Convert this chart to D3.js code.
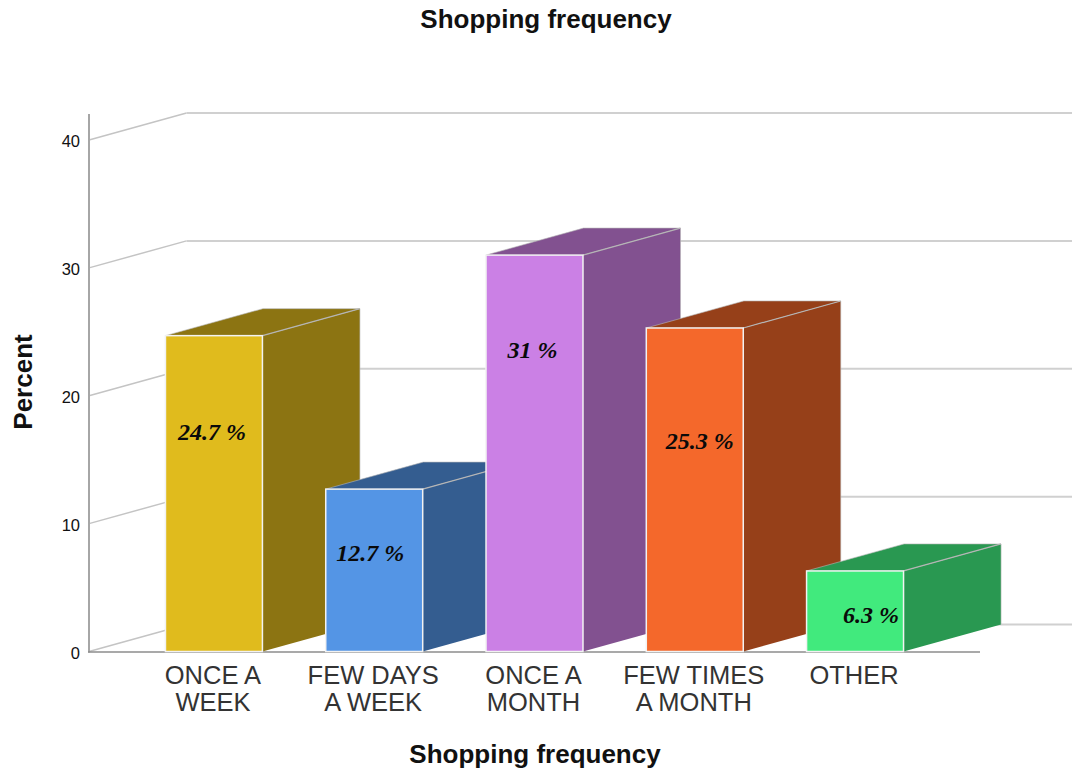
<!DOCTYPE html>
<html><head><meta charset="utf-8">
<script src="https://cdn.jsdelivr.net/npm/d3@7/dist/d3.min.js"></script>
<style>html,body{margin:0;padding:0;background:#fff}svg{display:block}</style>
</head><body><svg id="c" width="1072" height="770"></svg>
<script>
const categories = [["ONCE A","WEEK"],["FEW DAYS","A WEEK"],["ONCE A","MONTH"],["FEW TIMES","A MONTH"],["OTHER"]];
const categoryIds = ["once-week","few-days","once-month","few-times","other"];
const percents = [24.7,12.7,31,25.3,6.3];
const percentLabels = ["24.7 %","12.7 %","31 %","25.3 %","6.3 %"];
const frontColors = ["#e0bb1d","#5495e5","#cb80e5","#f4682b","#41ea7d"];
const sideColors = ["#8c7412","#345d90","#825190","#964019","#299851"];
const yTicks = [0,10,20,30,40];
const titleText = "Shopping frequency";
const yTitle = "Percent";
const labelValueAt = [17.2,7.7,23.6,16.5,2.9];
const labelShift = [-2,-4,-2,5,16];

const svg = d3.select("#c");
const y = d3.scaleLinear().domain([0,40]).range([651.5,140]);
const x = d3.scaleBand().domain(categoryIds).range([89,980]).paddingInner(0.395).paddingOuter(0.477);
const front = d3.scaleOrdinal().domain(categoryIds).range(frontColors);
const side = d3.scaleOrdinal().domain(categoryIds).range(sideColors);
const dx = 97.5, dy = -27;
const sans = "'Liberation Sans',Arial,sans-serif";

// walls
const grid = svg.append("g");
yTicks.forEach(t=>{
  grid.append("line").attr("x1",89).attr("y1",y(t)).attr("x2",89+dx).attr("y2",y(t)+dy)
    .attr("stroke","#c4c4c4").attr("stroke-width",1.5);
  grid.append("line").attr("x1",89+dx).attr("y1",y(t)+dy).attr("x2",1072).attr("y2",y(t)+dy)
    .attr("stroke","#d0d0d0").attr("stroke-width",2);
});

// axes
const yAxis = svg.append("g").attr("transform","translate(89,0)")
  .call(d3.axisLeft(y).tickValues(yTicks).tickSize(0).tickPadding(9));
yAxis.select(".domain").remove();
yAxis.selectAll("text").attr("font-family",sans).attr("font-size",16.5).attr("fill","#111").attr("dy","0.42em");
svg.append("line").attr("x1",89).attr("x2",89).attr("y1",114).attr("y2",652.5).attr("stroke","#a6a6a6").attr("stroke-width",2);
svg.append("line").attr("x1",88).attr("x2",980).attr("y1",652).attr("y2",652).attr("stroke","#8c8c8c").attr("stroke-width",1.5);

// bars
const bars = svg.append("g").selectAll("g").data(categoryIds).join("g");
bars.each(function(id,i){
  const g = d3.select(this);
  const l = x(id), r = l + x.bandwidth(), t = y(percents[i]), b = y(0);
  g.append("polygon").attr("points",[[l,t],[r,t],[r+dx,t+dy],[l+dx,t+dy]].join(" ")).attr("fill",side(id));
  g.append("polygon").attr("points",[[r,t],[r+dx,t+dy],[r+dx,b+dy],[r,b]].join(" ")).attr("fill",side(id));
  g.append("path").attr("d",`M${l},${t}L${l+dx},${t+dy}L${r+dx},${t+dy}L${r+dx},${b+dy}`)
    .attr("fill","none").attr("stroke","#b5b5b5").attr("stroke-width",1).attr("stroke-opacity",.6);
  g.append("line").attr("x1",r).attr("y1",t).attr("x2",r+dx).attr("y2",t+dy).attr("stroke","#b5b5b5").attr("stroke-width",1.2);
  g.append("rect").attr("x",l).attr("y",t).attr("width",x.bandwidth()).attr("height",b-t)
    .attr("fill",front(id)).attr("stroke","#f2f2f2").attr("stroke-width",1.5);
  g.append("text").attr("x",(l+r)/2+labelShift[i]).attr("y",y(labelValueAt[i])).attr("dy","0.35em")
    .attr("text-anchor","middle").attr("font-family","'Liberation Serif',serif")
    .attr("font-style","italic").attr("font-weight","bold").attr("font-size",24).attr("fill","#0a0a0a")
    .text(percentLabels[i]);
  const lab = g.append("text").attr("text-anchor","middle").attr("font-family",sans)
    .attr("font-size",25.5).attr("fill","#333");
  categories[i].forEach((s,k)=>lab.append("tspan").attr("x",(l+r)/2-1).attr("y",684+k*27).text(s));
});

// titles
svg.append("text").attr("x",546).attr("y",27.5).attr("text-anchor","middle").attr("font-family",sans)
  .attr("font-weight","bold").attr("font-size",26).attr("fill","#111").text(titleText);
svg.append("text").attr("x",535).attr("y",762.5).attr("text-anchor","middle").attr("font-family",sans)
  .attr("font-weight","bold").attr("font-size",26).attr("fill","#111").text(titleText);
svg.append("text").attr("transform","translate(32,382) rotate(-90)").attr("text-anchor","middle").attr("font-family",sans)
  .attr("font-weight","bold").attr("font-size",26).attr("fill","#111").text(yTitle);
</script></body></html>
